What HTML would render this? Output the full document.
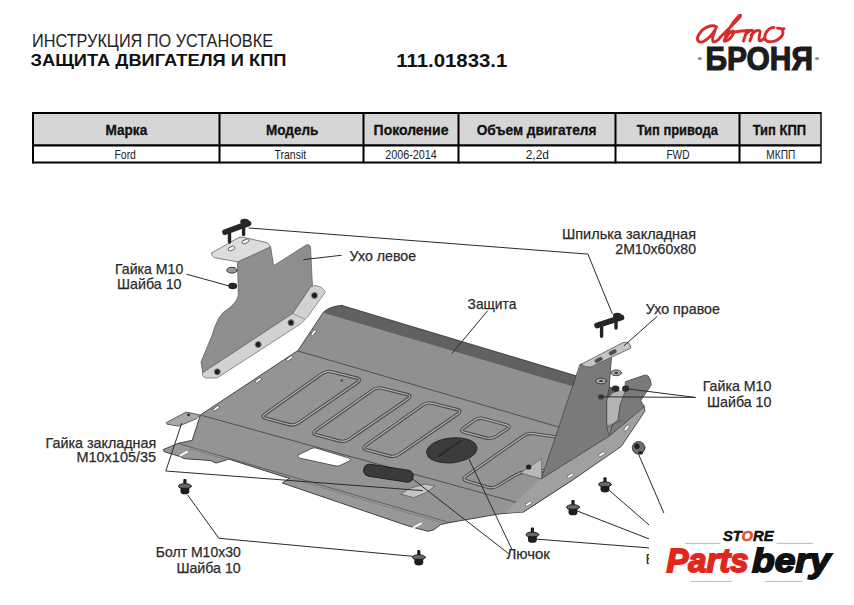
<!DOCTYPE html>
<html><head><meta charset="utf-8">
<style>
html,body{margin:0;padding:0;background:#fff;width:854px;height:605px;overflow:hidden}
svg{display:block}
text{font-family:"Liberation Sans",sans-serif}
</style></head>
<body>
<svg width="854" height="605" viewBox="0 0 854 605">
<!-- HEADER TEXT -->
<text x="32" y="47" font-size="17.5" fill="#222" textLength="241" lengthAdjust="spacingAndGlyphs">ИНСТРУКЦИЯ ПО УСТАНОВКЕ</text>
<text x="30.5" y="66" font-size="17" font-weight="bold" fill="#111" textLength="256" lengthAdjust="spacingAndGlyphs">ЗАЩИТА ДВИГАТЕЛЯ И КПП</text>
<text x="396.3" y="67" font-size="17.5" font-weight="bold" fill="#111" textLength="111" lengthAdjust="spacingAndGlyphs">111.01833.1</text>

<!-- TABLE -->
<g id="table">
<rect x="33" y="113" width="788" height="32" fill="#d6d6d6"/>
<g stroke="#000" fill="none">
<path d="M32,113 H821" stroke-width="2"/>
<path d="M32,145.3 H821" stroke-width="2.2"/>
<path d="M32,162.5 H821" stroke-width="2"/>
<path d="M33,112 V163.5 M219.5,112 V163.5 M363.5,112 V163.5 M458.5,112 V163.5 M615.5,112 V163.5 M739.5,112 V163.5" stroke-width="2"/>
<path d="M821,112 V163.5" stroke-width="1.4"/>
</g>
<g font-size="14" font-weight="bold" fill="#111" stroke="#111" stroke-width="0.3">
<text x="105.5" y="135" textLength="41.7" lengthAdjust="spacingAndGlyphs">Марка</text>
<text x="266" y="135" textLength="52.3" lengthAdjust="spacingAndGlyphs">Модель</text>
<text x="373.6" y="135" textLength="74.8" lengthAdjust="spacingAndGlyphs">Поколение</text>
<text x="476.7" y="135" textLength="119.8" lengthAdjust="spacingAndGlyphs">Объем двигателя</text>
<text x="636.7" y="135" textLength="81.2" lengthAdjust="spacingAndGlyphs">Тип привода</text>
<text x="752.7" y="135" textLength="53.3" lengthAdjust="spacingAndGlyphs">Тип КПП</text>
</g>
<g font-size="13" fill="#222">
<text x="114.5" y="158.8" textLength="21.4" lengthAdjust="spacingAndGlyphs">Ford</text>
<text x="274.5" y="158.8" textLength="31.7" lengthAdjust="spacingAndGlyphs">Transit</text>
<text x="385.2" y="158.8" textLength="51.6" lengthAdjust="spacingAndGlyphs">2006-2014</text>
<text x="525.7" y="158.8" textLength="23.2" lengthAdjust="spacingAndGlyphs">2,2d</text>
<text x="666.4" y="158.8" textLength="23.2" lengthAdjust="spacingAndGlyphs">FWD</text>
<text x="766.3" y="158.8" textLength="28.9" lengthAdjust="spacingAndGlyphs">МКПП</text>
</g>
</g>

<!-- DRAWING -->
<g id="drawing" stroke-linejoin="round" stroke-linecap="round">
<defs>
<clipPath id="plateClip"><path d="M342,305.5 L600,383 L640,400 L619,447 L574,479 L523.4,512 L500,513.8 L450,522.5 L440.6,524.6 L433.6,529.9 L428,531.3 L409.7,526.4 L398,522.5 L282.3,483 L289.3,478.4 L228.4,459 L224.7,460.5 L216,463.1 L210.7,460.5 L184.3,458.7 L180,456.5 L175.6,455.2 L164.1,451.7 L163.3,449.5 L178.2,443.3 L192.2,440.3 L200.3,415 L298,350.5 L323.4,312.2 Q330,306 342,305.5 Z"/></clipPath>
</defs>
<!-- ===== LEFT EAR ===== -->
<path d="M237.8,261.8 L270.6,246.8 L273.6,265.7 L306.5,244.8 Q310,244 310.5,247 L312.5,287 L311,286.4 L292.7,313.6 L202.7,372.7 L201,362 L212.2,335 C215,325 219,316 224,311.8 C231,307 237.5,302 238.3,294.6 Z" fill="#8e8e8e" stroke="#555" stroke-width="0.7"/>
<path d="M211.9,252.8 L237,238.5 Q240,236.5 243,237.2 L267.6,242.8 L270.6,246.8 L237.8,261.8 L214.9,257.8 Q210,255 211.9,252.8 Z" fill="#dcdcdc" stroke="#666" stroke-width="0.8"/>
<g fill="#f0f0f0" stroke="#555" stroke-width="0.8">
<rect x="-3.5" y="-1.8" width="7" height="3.6" rx="1.8" transform="translate(231.5,248.5) rotate(-25)"/>
<rect x="-3.5" y="-1.8" width="7" height="3.6" rx="1.8" transform="translate(245.5,241.5) rotate(-25)"/>
</g>
<path d="M202.7,372.7 L292.7,313.6 L311,286.4 Q316,284 321,287.3 L325.5,291.8 L308,316.4 L301,323.6 L217,378 L205.5,378 Q201,376 202.7,372.7 Z" fill="#d2d2d2" stroke="#666" stroke-width="0.7"/>
<path d="M292.7,313.6 L304.5,319" stroke="#777" stroke-width="0.7" fill="none"/>
<g fill="#1e1e1e" stroke="#8a8a8a" stroke-width="0.9"><circle cx="217.3" cy="371.8" r="3.1"/><circle cx="258.2" cy="344.5" r="3.1"/><circle cx="291" cy="322.7" r="3.1"/><circle cx="314.5" cy="295.5" r="3.1"/></g>
<!-- stud -->
<path d="M229.5,233 L229.5,242 M243.6,226 L243.6,234.5" stroke="#222" stroke-width="3.4"/>
<path d="M225,232.2 L248.5,223.5" stroke="#262626" stroke-width="5.6"/>
<ellipse cx="244.7" cy="221.8" rx="4.5" ry="3" fill="#262626"/>
<ellipse cx="232" cy="270.2" rx="5.2" ry="2.9" fill="#9a9a9a" stroke="#3a3a3a" stroke-width="1"/>
<ellipse cx="232.7" cy="286" rx="4.4" ry="3.3" fill="#262626"/>

<!-- ===== MAIN PLATE ===== -->
<path d="M342,305.5 L600,383 L640,400 L619,447 L574,479 L523.4,512 L500,513.8 L450,522.5 L440.6,524.6 L433.6,529.9 L428,531.3 L409.7,526.4 L398,522.5 L282.3,483 L289.3,478.4 L228.4,459 L224.7,460.5 L216,463.1 L210.7,460.5 L184.3,458.7 L180,456.5 L175.6,455.2 L164.1,451.7 L163.3,449.5 L178.2,443.3 L192.2,440.3 L200.3,415 L298,350.5 L323.4,312.2 Q330,306 342,305.5 Z" fill="#909090"/>
<g clip-path="url(#plateClip)">
<path d="M300,300 L342,305.5 L620,389 L620,400.2 L325.8,313.4 Z" fill="#616161"/>
<path d="M202.2,415.2 L298,351 L650,454 L650,600 L150,600 Z" fill="#949494"/>
<path d="M150,440 L178.2,443.5 L650,580 L650,600 L150,600 Z" fill="#989898"/>
<g stroke="#4a4a4a" stroke-width="0.9" fill="none">
<path d="M298,351 L620,445"/>
<path d="M202,415.5 L620,531"/>
<path d="M178.2,443.5 L540,549" stroke="#5a5a5a"/>
<path d="M190,449 L540,551.5" stroke="#777" stroke-width="0.7"/>
</g>
<!-- embossed rects -->
<g fill="none" stroke-linejoin="round">
<g stroke="#4c4c4c" stroke-width="3.4">
<path d="M265.3,413.8 L322.2,373.6 Q326.7,370.5 332.0,371.8 L356.5,378.0 Q361.9,379.3 357.3,382.5 L298.6,422.8 Q294.0,425.9 288.7,424.5 L266.1,418.4 Q260.8,416.9 265.3,413.8 Z"/>
<path d="M315.8,430.3 L372.7,390.1 Q377.2,387.0 382.5,388.3 L407.0,394.5 Q412.4,395.8 407.8,399.0 L349.1,439.3 Q344.5,442.4 339.2,441.0 L316.6,434.9 Q311.3,433.4 315.8,430.3 Z"/>
<path d="M365.8,445.3 L422.7,405.1 Q427.2,402.0 432.5,403.3 L457.0,409.5 Q462.4,410.8 457.8,414.0 L399.1,454.3 Q394.5,457.4 389.2,456.0 L366.6,449.9 Q361.3,448.4 365.8,445.3 Z"/>
<path d="M463.9,427.8 L474.1,420.4 Q478.6,417.2 483.9,418.6 L506.2,424.8 Q511.5,426.3 506.9,429.3 L496.2,436.3 Q491.6,439.3 486.3,438.0 L464.7,432.4 Q459.4,431.0 463.9,427.8 Z"/>
<path d="M466.0,476.1 L523.4,435.9 Q527.9,432.8 533.3,433.6 L573.6,439.6 Q579.1,440.4 576.0,444.9 L562.1,465.3 Q559.0,469.8 553.5,470.2 L525.8,471.7 Q520.4,472.1 515.7,474.9 L497.6,485.9 Q492.9,488.8 487.6,487.2 L466.7,480.9 Q461.5,479.3 466.0,476.1 Z"/>
</g>
<g stroke="#b2b2b2" stroke-width="1.2">
<path d="M265.3,413.8 L322.2,373.6 Q326.7,370.5 332.0,371.8 L356.5,378.0 Q361.9,379.3 357.3,382.5 L298.6,422.8 Q294.0,425.9 288.7,424.5 L266.1,418.4 Q260.8,416.9 265.3,413.8 Z"/>
<path d="M315.8,430.3 L372.7,390.1 Q377.2,387.0 382.5,388.3 L407.0,394.5 Q412.4,395.8 407.8,399.0 L349.1,439.3 Q344.5,442.4 339.2,441.0 L316.6,434.9 Q311.3,433.4 315.8,430.3 Z"/>
<path d="M365.8,445.3 L422.7,405.1 Q427.2,402.0 432.5,403.3 L457.0,409.5 Q462.4,410.8 457.8,414.0 L399.1,454.3 Q394.5,457.4 389.2,456.0 L366.6,449.9 Q361.3,448.4 365.8,445.3 Z"/>
<path d="M463.9,427.8 L474.1,420.4 Q478.6,417.2 483.9,418.6 L506.2,424.8 Q511.5,426.3 506.9,429.3 L496.2,436.3 Q491.6,439.3 486.3,438.0 L464.7,432.4 Q459.4,431.0 463.9,427.8 Z"/>
<path d="M466.0,476.1 L523.4,435.9 Q527.9,432.8 533.3,433.6 L573.6,439.6 Q579.1,440.4 576.0,444.9 L562.1,465.3 Q559.0,469.8 553.5,470.2 L525.8,471.7 Q520.4,472.1 515.7,474.9 L497.6,485.9 Q492.9,488.8 487.6,487.2 L466.7,480.9 Q461.5,479.3 466.0,476.1 Z"/>
</g>
</g>
</g>
<path d="M342,305.5 L600,383 L640,400 L619,447 L574,479 L523.4,512 L500,513.8 L450,522.5 L440.6,524.6 L433.6,529.9 L428,531.3 L409.7,526.4 L398,522.5 L282.3,483 L289.3,478.4 L228.4,459 L224.7,460.5 L216,463.1 L210.7,460.5 L184.3,458.7 L180,456.5 L175.6,455.2 L164.1,451.7 L163.3,449.5 L178.2,443.3 L192.2,440.3 L200.3,415 L298,350.5 L323.4,312.2 Q330,306 342,305.5 Z" fill="none" stroke="#3c3c3c" stroke-width="0.9"/>
<!-- white hole -->
<path d="M299,454.5 L312,448.3 Q314,447.4 316.5,448.2 L349,458 Q351.5,459.3 349.5,461 L340,465.6 Q337.5,466.5 335,465.8 L300,458.2 Q296.5,457 299,454.5 Z" fill="#fff" stroke="#4a4a4a" stroke-width="0.9"/>
<!-- slots -->
<g fill="#fff" stroke="#444" stroke-width="0.7">
<rect x="-3.5" y="-1.3" width="7" height="2.6" rx="1.3" transform="translate(313.6,332.7) rotate(-50)"/>
<rect x="-3.5" y="-1.3" width="7" height="2.6" rx="1.3" transform="translate(289.5,358.5) rotate(-35)"/>
<rect x="-3.5" y="-1.3" width="7" height="2.6" rx="1.3" transform="translate(258.3,380.3) rotate(-35)"/>
<rect x="-3.5" y="-1.3" width="7" height="2.6" rx="1.3" transform="translate(216.2,408.4) rotate(-35)"/>
<rect x="-3.5" y="-1.3" width="7" height="2.6" rx="1.3" transform="translate(529.3,503.3) rotate(-30)"/>
</g>
<path d="M180.5,455.5 L187,451.8 M413.5,527.5 L421,523.5" stroke="#fff" stroke-width="1.8"/>
<!-- nut tab (left) -->
<path d="M166.6,422.4 L186.2,412.1 L200.3,415 L196.5,418.7 L178.7,426.2 L167.5,424.3 Z" fill="#a8a8a8" stroke="#444" stroke-width="0.8"/>
<circle cx="188.5" cy="414.8" r="1.5" fill="#333"/>
<!-- pill oval -->
<rect x="-25" y="-6" width="50" height="12" rx="6" fill="#3a3a3a" stroke="#222" stroke-width="1" transform="translate(388.4,473.2) rotate(9)"/>
<!-- lid hatch -->
<ellipse cx="451.8" cy="450.3" rx="25.2" ry="12.4" fill="#3c3c3c" stroke="#2a2a2a" stroke-width="1" transform="rotate(-6 451.8 450.3)"/>
<path d="M438.9,456.2 L461,440.7" stroke="#262626" stroke-width="1.6"/>
<!-- small nut tab near oval -->
<path d="M401,494 L410.4,488 L425.6,484 L435,486.3 L425.6,492.8 L413.9,497.5 Z" fill="#c4c4c4" stroke="#555" stroke-width="0.7"/>
<circle cx="341.8" cy="380.6" r="1.4" fill="#555"/>

<!-- ===== RIGHT EAR ===== -->
<path d="M539.8,479.3 L609.4,436 L641,409.4 L643.8,405 L645,411 L621.3,446.4 L574,479 L523.4,512 L505,513 Z" fill="#a0a0a0"/>
<path d="M643.8,405 L645,411 L621.3,446.4 L574,479 L523.4,512" fill="none" stroke="#444" stroke-width="0.9"/>
<path d="M606.8,400 L612.7,393.3 L625,389 L622,420 L606.8,425 Z" fill="#b4b4b4"/>
<path d="M625.6,381.6 L644.3,375.2 Q650,373.5 651.3,385 L640.8,400.4 L644,407 L609.4,436 L612,425 L618,420 L620,405 L625,392 Z" fill="#7a7a7a" stroke="#444" stroke-width="0.8"/>
<path d="M580.3,364.4 L611.5,357 L609.2,387.5 L606.8,400 L606.8,428 L609.4,436 L541.6,478.6 Z" fill="#7a7a7a" stroke="#444" stroke-width="0.8"/>
<path d="M606.8,428 L622,420" stroke="#555" stroke-width="0.7" fill="none"/>
<path d="M520.5,472.8 L541.6,458.7 L541.6,478.6 Z" fill="#b8b8b8" stroke="#555" stroke-width="0.6"/>
<circle cx="528.7" cy="467" r="2.6" fill="#222"/>
<path d="M581,364.4 L622.6,342.7 Q627,341.5 629.2,343.2 L631,348 L590.9,367 Q585,367.5 581,364.4 Z" fill="#c4c4c4" stroke="#555" stroke-width="0.8"/>
<g fill="#4a4a4a" stroke="#666" stroke-width="0.6">
<rect x="-4" y="-1.8" width="8" height="3.6" rx="1.8" transform="translate(598.6,360) rotate(-27)"/>
<rect x="-4" y="-1.8" width="8" height="3.6" rx="1.8" transform="translate(612.7,352.3) rotate(-27)"/>
</g>
<g fill="#a8a8a8" stroke="#333" stroke-width="0.9">
<ellipse cx="616.2" cy="372.8" rx="5.3" ry="2.9"/>
<ellipse cx="601" cy="381" rx="5.3" ry="2.9"/>
</g>
<ellipse cx="616.2" cy="372.8" rx="2" ry="1.1" fill="#333"/>
<ellipse cx="601" cy="381" rx="2" ry="1.1" fill="#333"/>
<ellipse cx="615.6" cy="388.6" rx="3.8" ry="3.2" fill="#2a2a2a"/>
<ellipse cx="625.6" cy="388.6" rx="3.5" ry="3.2" fill="#2a2a2a"/>
<ellipse cx="601" cy="396.8" rx="3" ry="2.6" fill="#3a3a3a"/>
<g fill="#fff" stroke="#555" stroke-width="0.6">
<rect x="-3.5" y="-1.3" width="7" height="2.6" rx="1.3" transform="translate(626.6,428) rotate(-50)"/>
<rect x="-3.5" y="-1.3" width="7" height="2.6" rx="1.3" transform="translate(601.6,454.3) rotate(-30)"/>
<rect x="-3.5" y="-1.3" width="7" height="2.6" rx="1.3" transform="translate(570.3,475.8) rotate(-30)"/>
<rect x="-3.5" y="-1.3" width="7" height="2.6" rx="1.3" transform="translate(528.5,503.8) rotate(-30)"/>
</g>
<!-- right stud -->
<path d="M601.6,327 L601.6,336.2 M616,322 L616,328.1" stroke="#222" stroke-width="3.4"/>
<path d="M597,325.5 L621.5,317.5" stroke="#262626" stroke-width="5.6"/>
<ellipse cx="617.2" cy="315.5" rx="4.2" ry="2.7" fill="#262626"/>

<!-- ===== LEADERS ===== -->
<g stroke="#2a2a2a" stroke-width="1" fill="none">
<path d="M249,228 L587.9,254.1 L612.2,313.5"/>
<path d="M341.2,255.3 L303.7,259.6"/>
<path d="M187,274.3 L231,286.5"/>
<path d="M487.4,311 L452.2,353.2"/>
<path d="M657,316.5 L624.3,345.5"/>
<path d="M695.2,397.4 L625.6,388.6 M695.2,397.4 L601,396.8"/>
<path d="M181.6,423.5 L165.8,471 L422.4,490.6"/>
<path d="M187.8,495.2 L218.9,538.3 L412.4,556.3"/>
<path d="M412,478.5 L508.5,553.5 M469.2,459.5 L511.6,548.7"/>
<path d="M537.4,539.2 L648.8,547.9 M577,510.9 L648.8,538.8 M609.7,490.8 L648.8,524.7 M638.6,454.3 L663.9,513.1"/>
</g>
<!-- bolts -->
<g fill="#1e1e1e">
<g transform="translate(184.9,486.2)"><rect x="-1.6" y="-7.2" width="3.2" height="7" rx="1"/><ellipse cx="0" cy="0" rx="6.4" ry="2.6" fill="#6a6a6a" stroke="#1e1e1e" stroke-width="1"/><ellipse cx="0" cy="5.2" rx="4.4" ry="2.9"/><rect x="-4.4" y="1.5" width="8.8" height="3.7"/></g>
<g transform="translate(418.8,557.3)"><rect x="-1.6" y="-7.2" width="3.2" height="7" rx="1"/><ellipse cx="0" cy="0" rx="6.4" ry="2.6" fill="#6a6a6a" stroke="#1e1e1e" stroke-width="1"/><ellipse cx="0" cy="5.2" rx="4.4" ry="2.9"/><rect x="-4.4" y="1.5" width="8.8" height="3.7"/></g>
<g transform="translate(532.4,534.7)"><rect x="-1.6" y="-7.2" width="3.2" height="7" rx="1"/><ellipse cx="0" cy="0" rx="6.4" ry="2.6" fill="#6a6a6a" stroke="#1e1e1e" stroke-width="1"/><ellipse cx="0" cy="5.2" rx="4.4" ry="2.9"/><rect x="-4.4" y="1.5" width="8.8" height="3.7"/></g>
<g transform="translate(573,507.2)"><rect x="-1.6" y="-7.2" width="3.2" height="7" rx="1"/><ellipse cx="0" cy="0" rx="6.4" ry="2.6" fill="#6a6a6a" stroke="#1e1e1e" stroke-width="1"/><ellipse cx="0" cy="5.2" rx="4.4" ry="2.9"/><rect x="-4.4" y="1.5" width="8.8" height="3.7"/></g>
<g transform="translate(605,484.4)"><rect x="-1.6" y="-7.2" width="3.2" height="7" rx="1"/><ellipse cx="0" cy="0" rx="6.4" ry="2.6" fill="#6a6a6a" stroke="#1e1e1e" stroke-width="1"/><ellipse cx="0" cy="5.2" rx="4.4" ry="2.9"/><rect x="-4.4" y="1.5" width="8.8" height="3.7"/></g>
<g transform="translate(638.6,447.8)"><ellipse cx="0" cy="0" rx="6.3" ry="6.3" fill="#6e6e6e" stroke="#3a3a3a" stroke-width="0.9"/><ellipse cx="-1.6" cy="-1.5" rx="2.6" ry="2.8"/><ellipse cx="2" cy="5" rx="2.5" ry="1.6"/></g>
</g>
<text x="645.5" y="563.6" font-size="15" fill="#2a2a2a">Б</text>
<!-- white box for partsbery logo -->
<rect x="649" y="513" width="205" height="92" fill="#fff"/>
</g>

<!-- LABELS -->
<g font-size="15" fill="#2a2a2a" stroke="#2a2a2a" stroke-width="0.25">
<text x="115" y="274.3" textLength="68.3" lengthAdjust="spacingAndGlyphs">Гайка М10</text>
<text x="117" y="289.3" textLength="64.5" lengthAdjust="spacingAndGlyphs">Шайба 10</text>
<text x="349.6" y="261" textLength="66.5" lengthAdjust="spacingAndGlyphs">Ухо левое</text>
<text x="562" y="239" textLength="134" lengthAdjust="spacingAndGlyphs">Шпилька закладная</text>
<text x="615.3" y="254" textLength="80.7" lengthAdjust="spacingAndGlyphs">2М10х60х80</text>
<text x="467.6" y="309" textLength="48.7" lengthAdjust="spacingAndGlyphs">Защита</text>
<text x="645.8" y="313.6" textLength="74.1" lengthAdjust="spacingAndGlyphs">Ухо правое</text>
<text x="702.7" y="391" textLength="68.7" lengthAdjust="spacingAndGlyphs">Гайка М10</text>
<text x="707" y="407" textLength="64.4" lengthAdjust="spacingAndGlyphs">Шайба 10</text>
<text x="45.5" y="447.7" textLength="110.7" lengthAdjust="spacingAndGlyphs">Гайка закладная</text>
<text x="76.4" y="461.8" textLength="79.8" lengthAdjust="spacingAndGlyphs">М10х105/35</text>
<text x="155.8" y="556.8" textLength="85" lengthAdjust="spacingAndGlyphs">Болт М10х30</text>
<text x="176.4" y="573" textLength="64.4" lengthAdjust="spacingAndGlyphs">Шайба 10</text>
<text x="506.5" y="559" textLength="43.3" lengthAdjust="spacingAndGlyphs">Лючок</text>
</g>
<!-- LOGOS -->
<g id="logos">
<!-- avto script -->
<g transform="translate(692,10) scale(0.1171)" fill="none" stroke="#d52d2b" stroke-width="25" stroke-linecap="round" stroke-linejoin="round">
<path d="M210,145 C170,120 95,145 55,215 C35,255 55,285 95,270 C140,250 180,200 200,165 C185,200 165,250 180,270 C195,280 225,255 240,235"/>
<path d="M240,235 C290,180 360,120 400,70 C425,42 418,32 390,62 C340,110 290,200 275,265 C300,220 330,175 350,180 C370,185 330,260 285,265"/>
<path d="M320,195 C380,185 440,175 490,175"/>
<path d="M470,175 C460,210 445,240 440,265 M455,215 C480,180 510,165 520,180 C525,200 500,240 495,265 M505,215 C530,180 565,165 580,180 C585,200 565,240 575,262 C585,270 600,255 620,240"/>
<path d="M700,150 C650,150 610,210 625,250 C640,285 720,275 760,230 C790,195 780,150 730,155 C750,160 770,165 785,160"/>
</g>
<!-- BRONYA -->
<text x="705.5" y="69.8" font-size="33" font-weight="bold" fill="#1c1c1c" stroke="#1c1c1c" stroke-width="1.2" textLength="107.5" lengthAdjust="spacingAndGlyphs">БРОНЯ</text>
<ellipse cx="699.8" cy="58.4" rx="2" ry="1.5" fill="#888"/>
<ellipse cx="817" cy="58.4" rx="2" ry="1.5" fill="#888"/>
<!-- Partsbery -->
<g>
<text x="723" y="541.3" font-size="14" font-weight="bold" font-style="italic" fill="#111" stroke="#111" stroke-width="0.5" textLength="50.5" lengthAdjust="spacingAndGlyphs">ST<tspan fill="#e8501e" stroke="#e8501e">O</tspan>RE</text>
<path d="M685.1,543.4 H720.3 M776.5,543.4 H812.8 M691,581.4 H732 M764.8,581.4 H802.2" stroke="#e8a090" stroke-width="0.9"/>
<text x="666.5" y="572" font-size="34" font-weight="bold" font-style="italic" fill="#e3261d" stroke="#e3261d" stroke-width="1.8" textLength="82" lengthAdjust="spacingAndGlyphs">Parts</text>
<text x="752" y="572" font-size="34" font-weight="bold" font-style="italic" fill="#111" stroke="#111" stroke-width="1.8" textLength="78.5" lengthAdjust="spacingAndGlyphs">bery</text>
</g>
</g>
</svg>
</body></html>
